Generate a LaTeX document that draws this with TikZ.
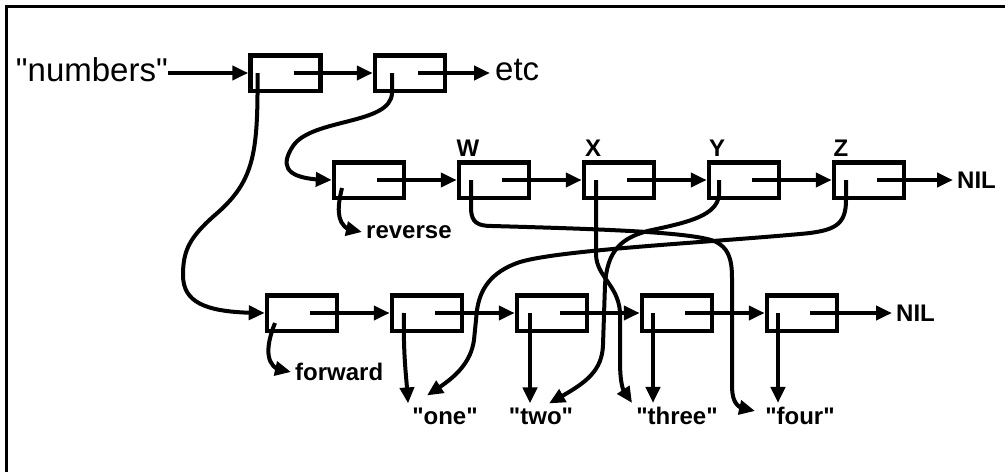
\documentclass[tikz,border=0pt]{standalone}
\usepackage{fontspec}
\setmainfont{Liberation Sans}[Ligatures=TeXOff]
\usetikzlibrary{arrows.meta,bending}

\begin{document}
\begin{tikzpicture}[x=1pt, y=-1pt,
	cell/.style={draw=black, line width=4.5pt, minimum width=70pt, minimum height=35.5pt, inner sep=0pt},
	ptr/.style={draw=black, line width=4pt, -{Triangle[length=16pt, width=14pt]}},
	big/.style={black, inner sep=0pt, font=\fontsize{33}{40}\selectfont},
	lbl/.style={black, inner sep=4pt, font=\bfseries\fontsize{24}{29}\selectfont},
	tag/.style={black, inner sep=0pt, font=\bfseries\fontsize{24}{29}\selectfont},
	frame/.style={draw=black, line width=3pt}]
		\useasboundingbox (0,0) rectangle (1005,472);
		\draw[frame] (6,472) -- (6,6.5) -- (1005,6.5);
		\node[big, anchor=east] (numbers) at (168,70) {"numbers"};
		\node[cell] (n1) at (285.5,73) {};
		\node[cell] (n2) at (410,73) {};
		\node[big, anchor=west, inner sep=5pt] (etc) at (490,70) {etc};
		\node[cell] (cr) at (369,180) {};
		\node[cell] (cw) at (494,180) {};
		\node[cell] (cx) at (619,180) {};
		\node[cell] (cy) at (744,180) {};
		\node[cell] (cz) at (869,180) {};
		\node[tag] (wtag) at (468,148) {W};
		\node[tag] (xtag) at (593,148) {X};
		\node[tag] (ytag) at (717,148) {Y};
		\node[tag] (ztag) at (841,148) {Z};
		\node[lbl, anchor=west] (nilm) at (953,180) {NIL};
		\node[lbl, anchor=west] (reverse) at (362,232) {reverse};
		\node[cell] (cf) at (302,313) {};
		\node[cell] (c1) at (427,313) {};
		\node[cell] (c2) at (552,313) {};
		\node[cell] (c3) at (677,313) {};
		\node[cell] (c4) at (802,313) {};
		\node[lbl, anchor=west] (nilb) at (892,313) {NIL};
		\node[lbl, anchor=west] (forward) at (291,372) {forward};
		\node[lbl] (one) at (445,416) {"one"};
		\node[lbl] (two) at (541,416) {"two"};
		\node[lbl] (three) at (677,416) {"three"};
		\node[lbl] (four) at (800,416) {"four"};
		\draw[ptr] (numbers.east |- n1.west) -- (n1.west);
		\draw[ptr] ([xshift=8pt]n1.center) -- (n2.west);
		\draw[ptr] ([xshift=8pt]n2.center) -- (etc.west |- n2.center);
		\draw[ptr] ([xshift=8pt]cr.center) -- (cw.west);
		\draw[ptr] ([xshift=8pt]cw.center) -- (cx.west);
		\draw[ptr] ([xshift=8pt]cx.center) -- (cy.west);
		\draw[ptr] ([xshift=8pt]cy.center) -- (cz.west);
		\draw[ptr] ([xshift=8pt]cz.center) -- (nilm.west);
		\draw[ptr] ([xshift=8pt]cf.center) -- (c1.west);
		\draw[ptr] ([xshift=8pt]c1.center) -- (c2.west);
		\draw[ptr] ([xshift=8pt]c2.center) -- (c3.west);
		\draw[ptr] ([xshift=8pt]c3.center) -- (c4.west);
		\draw[ptr] ([xshift=8pt]c4.center) -- (nilb.west);
		\draw[ptr] ([xshift=-28pt]n1.center) -- ++(0,22) .. controls (257,160) and (250,185) .. (215,215) .. controls (190,237) and (183,250) .. (183,275) .. controls (183,305) and (210,313) .. (cf.west);
		\draw[ptr] ([xshift=-18pt]n2.center) -- ++(0,20) .. controls (391,125) and (312,118) .. (293,146) .. controls (280,166) and (284,180) .. (cr.west);
		\draw[ptr] ([xshift=-27pt,yshift=-8pt]cr.center) .. controls (337,208) and (334,232) .. (reverse.west);
		\draw[ptr] ([xshift=-27pt,yshift=-10pt]cf.center) .. controls (266,345) and (262,372) .. (forward.west);
		\draw[ptr] ([xshift=-23pt]c1.center) .. controls (403,360) and (407,380) .. (one.north west);
		\draw[ptr] ([xshift=-22pt]c2.center) -- ([xshift=-22pt]c2.center |- two.north);
		\draw[ptr] ([xshift=-24pt]c3.center) -- ([xshift=-24pt]c3.center |- three.north);
		\draw[ptr] ([xshift=-24pt]c4.center) -- ([xshift=-24pt]c4.center |- four.north);
		\draw[ptr] ([xshift=-23pt]cw.center) -- ++(0,30) .. controls (472,222) and (477,226) .. (492,226) .. controls (600,229) and (690,232) .. (714,241) .. controls (728,247) and (732,258) .. (732,278) -- (732,385) .. controls (732,404) and (738,410) .. ([xshift=-6pt,yshift=5pt]four.west);
		\draw[ptr] ([xshift=-23pt]cx.center) -- ++(0,75) .. controls (597,277) and (618,285) .. (620,312) -- (620,360) .. controls (620,385) and (623,395) .. (three.north west);
		\draw[ptr] ([xshift=-25pt]cy.center) -- ++(0,15) .. controls (717,215) and (690,222) .. (652,230) .. controls (620,237) and (607,252) .. (605,285) -- (603,345) .. controls (602,375) and (580,386) .. ([xshift=8pt]two.north);
		\draw[ptr] ([xshift=-23pt]cz.center) -- ++(0,20) .. controls (846,225) and (835,231) .. (800,234) .. controls (700,243) and (560,250) .. (520,262) .. controls (490,272) and (480,290) .. (477,310) -- (474,340) .. controls (470,368) and (448,382) .. ([xshift=-18pt,yshift=8pt]one.north);
	\end{tikzpicture}
\end{document}
